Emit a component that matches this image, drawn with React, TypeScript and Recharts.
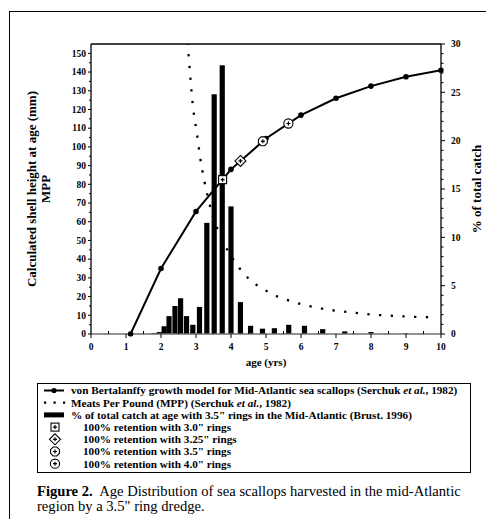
import { ComposedChart, Bar, Line, Scatter, XAxis, YAxis, ReferenceLine, Label } from 'recharts';

const SERIF = '"Liberation Serif", "Times New Roman", serif';

// % of total catch at age (3.5" rings), right axis
const catchAges = [1.8, 1.95, 2.09, 2.23, 2.4, 2.56, 2.73, 2.91, 3.1, 3.31, 3.52, 3.75, 4.0, 4.27, 4.56, 4.9, 5.24, 5.65, 6.1, 6.62, 7.25, 8.0, 9.0];
const catchPct = [0.1, 0.2, 0.8, 1.85, 2.9, 3.7, 1.85, 0.95, 2.8, 11.5, 24.8, 27.8, 13.2, 3.3, 0.85, 0.55, 0.6, 0.95, 0.85, 0.5, 0.27, 0.2, 0.08];

// von Bertalanffy shell height (mm)
const growthAges = [1.13, 2, 3, 4, 5, 6, 7, 8, 9, 10];
const growthMm = [0, 35, 65.5, 88, 104.5, 117, 126, 132.5, 137.5, 141];

// meats per pound
const mppAges = [2.72, 2.79, 2.87, 2.93, 3.03, 3.12, 3.24, 3.31, 3.39, 3.48, 3.6, 3.91, 4.12, 4.38, 4.71, 5.05, 5.38, 5.72, 6.05, 6.39, 6.72, 7.06, 7.39, 7.73, 8.06, 8.4, 8.73, 9.05, 9.38, 9.7];
const mppValues = [162, 148.7, 130, 119, 106.7, 94.2, 81.6, 75.5, 69.3, 62.9, 56.7, 44.4, 38.3, 32, 26.5, 22.6, 19.6, 17.5, 15.7, 14.3, 13.2, 12.3, 11.6, 10.9, 10.3, 10.0, 9.6, 9.3, 9.1, 8.9];

// 100% retention points on the growth curve
const retentionRings = ['3.0"', '3.25"', '3.5"', '4.0"'];
const retentionAges = [3.76, 4.27, 4.91, 5.64];
const retentionMm = [82.5, 92.5, 103, 112.5];
const retentionKinds = ['square', 'diamond', 'octagon', 'circle'];

const xTicks = [0, 0.5, 1, 1.5, 2, 2.5, 3, 3.5, 4, 4.5, 5, 5.5, 6, 6.5, 7, 7.5, 8, 8.5, 9, 9.5, 10];
const leftTicks = [0, 5, 10, 15, 20, 25, 30, 35, 40, 45, 50, 55, 60, 65, 70, 75, 80, 85, 90, 95, 100, 105, 110, 115, 120, 125, 130, 135, 140, 145, 150];
const rightTicks = [0, 1, 2, 3, 4, 5, 6, 7, 8, 9, 10, 11, 12, 13, 14, 15, 16, 17, 18, 19, 20, 21, 22, 23, 24, 25, 26, 27, 28, 29, 30];

const catchData = catchAges.map((age, i) => ({ age, pct: catchPct[i] }));
const growthData = growthAges.map((age, i) => ({ age, mm: growthMm[i] }));
const mppData = mppAges.map((age, i) => ({ age, mpp: mppValues[i] }));
const retentionData = retentionAges.map((age, i) => ({ age, mm: retentionMm[i], kind: retentionKinds[i] }));

const tickFont = { fontFamily: SERIF, fontSize: 9.5, fontWeight: 700, fill: '#000' };

function XTick(props: any) {
  const { x, y, payload } = props;
  const major = Number.isInteger(payload.value);
  return (
    <g>
      <line x1={x} x2={x} y1={y} y2={major ? y + 4 : y - 3} stroke="#000" strokeWidth={1} />
      {major && <text x={x} y={y + 15.5} textAnchor="middle" style={tickFont}>{payload.value}</text>}
    </g>
  );
}

function LeftTick(props: any) {
  const { x, y, payload } = props;
  const major = payload.value % 10 === 0;
  return (
    <g>
      <line x1={x} x2={x - (major ? 3 : 2)} y1={y} y2={y} stroke="#000" strokeWidth={1} />
      {major && <text x={x - 5} y={y + 3.3} textAnchor="end" style={tickFont}>{payload.value}</text>}
    </g>
  );
}

function RightTick(props: any) {
  const { x, y, payload } = props;
  const major = payload.value % 5 === 0;
  return (
    <g>
      <line x1={x} x2={x + (major ? 4 : 2.5)} y1={y} y2={y} stroke="#000" strokeWidth={1} />
      {major && <text x={x + 10} y={y + 3.3} textAnchor="start" style={tickFont}>{payload.value}</text>}
    </g>
  );
}

function CatchBar(props: any) {
  const { x, y, width, height } = props;
  if (!height || height <= 0) return null;
  const cx = x + width / 2;
  return <rect x={cx - 2.6} y={y} width={5.2} height={height} fill="#000" />;
}

function RetentionMark({ cx, cy, kind }: { cx: number; cy: number; kind: string }) {
  let outline;
  if (kind === 'square') {
    outline = <rect x={cx - 4} y={cy - 4} width={8} height={8} fill="#fff" stroke="#000" strokeWidth={1.1} />;
  } else if (kind === 'diamond') {
    outline = <path d={`M${cx},${cy - 5.5}L${cx + 5.5},${cy}L${cx},${cy + 5.5}L${cx - 5.5},${cy}Z`} fill="#fff" stroke="#000" strokeWidth={1.1} />;
  } else if (kind === 'octagon') {
    const pts = Array.from({ length: 8 }, (_, i) => {
      const a = (Math.PI / 8) + (i * Math.PI) / 4;
      return `${cx + 4.8 * Math.cos(a)},${cy + 4.8 * Math.sin(a)}`;
    }).join(' ');
    outline = <polygon points={pts} fill="#fff" stroke="#000" strokeWidth={1.1} />;
  } else {
    outline = <circle cx={cx} cy={cy} r={4.6} fill="#fff" stroke="#000" strokeWidth={1.1} />;
  }
  return (
    <g>
      {outline}
      <path d={`M${cx - 2},${cy}H${cx + 2}M${cx},${cy - 2}V${cy + 2}`} stroke="#000" strokeWidth={1.2} />
    </g>
  );
}

const legendRows = [
  { sym: 'line', text: 'von Bertalanffy growth model for Mid-Atlantic sea scallops (Serchuk ', ital: 'et al.', tail: ', 1982)' },
  { sym: 'dots', text: 'Meats Per Pound (MPP) (Serchuk ', ital: 'et al.', tail: ', 1982)' },
  { sym: 'bar', text: '% of total catch at age with 3.5" rings in the Mid-Atlantic (Brust. 1996)' },
  ...retentionRings.map((r, i) => ({ sym: retentionKinds[i], text: `100% retention with ${r} rings` })),
];

function LegendSymbol({ sym, cy }: { sym: string; cy: number }) {
  if (sym === 'line') {
    return (
      <g>
        <line x1={6} x2={26} y1={cy} y2={cy} stroke="#000" strokeWidth={2} />
        <circle cx={16} cy={cy} r={2.6} fill="#000" />
      </g>
    );
  }
  if (sym === 'dots') {
    return <line x1={6} x2={28} y1={cy} y2={cy} stroke="#000" strokeWidth={2.2} strokeDasharray="2.2 7.3" />;
  }
  if (sym === 'bar') {
    return <rect x={6} y={cy - 2.5} width={20} height={5} fill="#000" />;
  }
  return <RetentionMark cx={17} cy={cy} kind={sym} />;
}

export default function App() {
  return (
    <div style={{ position: 'absolute', left: 0, top: 0, width: 486, height: 519, overflow: 'hidden', background: '#fff', fontFamily: SERIF }}>
      <div style={{ position: 'absolute', left: 9, top: 11, width: 600, height: 600, borderLeft: '1px solid #000', borderTop: '1px solid #000' }} />

      <div style={{ position: 'absolute', left: 0, top: 0 }}>
        <ComposedChart width={486} height={368} data={catchData} margin={{ top: 44, right: 0, bottom: 0, left: 0 }}>
          <XAxis
            dataKey="age"
            type="number"
            domain={[0, 10]}
            ticks={xTicks}
            interval={0}
            allowDataOverflow
            height={34}
            tickSize={0}
            tickMargin={0}
            tickLine={false}
            tick={<XTick />}
            axisLine={{ stroke: '#707070', strokeWidth: 1.5 }}
          >
            <Label value="age (yrs)" position="insideBottom" offset={2} style={{ fontFamily: SERIF, fontSize: 11, fontWeight: 700, fill: '#000' }} />
          </XAxis>
          <YAxis
            yAxisId="left"
            type="number"
            domain={[0, 155]}
            ticks={leftTicks}
            interval={0}
            allowDataOverflow
            width={91}
            tickSize={0}
            tickMargin={0}
            tickLine={false}
            tick={<LeftTick />}
            axisLine={{ stroke: '#000', strokeWidth: 1.3 }}
          />
          <YAxis
            yAxisId="right"
            orientation="right"
            type="number"
            domain={[0, 30]}
            ticks={rightTicks}
            interval={0}
            width={45}
            tickSize={0}
            tickMargin={0}
            tickLine={false}
            tick={<RightTick />}
            axisLine={{ stroke: '#000', strokeWidth: 1.3 }}
          />
          <ReferenceLine yAxisId="left" y={155} stroke="#000" strokeWidth={1.3} />
          <Line
            yAxisId="left"
            data={mppData}
            dataKey="mpp"
            type="monotone"
            stroke="#000"
            strokeWidth={2.3}
            strokeDasharray="2.3 9.4"
            dot={false}
            isAnimationActive={false}
          />
          <Bar yAxisId="right" dataKey="pct" fill="#000" barSize={5} shape={<CatchBar />} isAnimationActive={false} />
          <Line
            yAxisId="left"
            data={growthData}
            dataKey="mm"
            type="linear"
            stroke="#000"
            strokeWidth={2}
            dot={{ r: 2.8, fill: '#000', stroke: '#000', strokeWidth: 0, clipDot: false }}
            isAnimationActive={false}
          />
          <Scatter
            yAxisId="left"
            data={retentionData}
            dataKey="mm"
            isAnimationActive={false}
            shape={(p: any) => <RetentionMark cx={p.cx} cy={p.cy} kind={p.payload.kind} />}
          />
        </ComposedChart>
      </div>

      <svg width={486} height={519} style={{ position: 'absolute', left: 0, top: 0, pointerEvents: 'none' }}>
        <g style={{ fontFamily: SERIF, fontSize: 13, fontWeight: 700, fill: '#000' }}>
          <text x={36} y={189} textAnchor="middle" transform="rotate(-90 36 189)">Calculated shell height at age (mm)</text>
          <text x={50} y={189} textAnchor="middle" transform="rotate(-90 50 189)">MPP</text>
          <text x={481} y={189} textAnchor="middle" transform="rotate(-90 481 189)">% of total catch</text>
        </g>
      </svg>

      <div style={{ position: 'absolute', left: 37, top: 383, width: 434, height: 90, border: '1.3px solid #000', boxSizing: 'border-box' }}>
        <svg width={432} height={88} style={{ display: 'block' }}>
          {legendRows.map((row, i) => {
            const cy = 6.5 + i * 12.2;
            const textX = i < 3 ? 33 : 45;
            return (
              <g key={i}>
                <LegendSymbol sym={row.sym} cy={cy} />
                <text x={textX} y={cy + 3.8} style={{ fontFamily: SERIF, fontSize: 11.2, fontWeight: 700, fill: '#000' }}>
                  {row.text}
                  {row.ital && <tspan fontStyle="italic">{row.ital}</tspan>}
                  {row.tail}
                </text>
              </g>
            );
          })}
        </svg>
      </div>

      <div style={{ position: 'absolute', left: 37, top: 484, width: 449, fontSize: 14.6, lineHeight: '14.5px', color: '#000', whiteSpace: 'nowrap' }}>
        <b>Figure 2.</b>&nbsp; Age Distribution of sea scallops harvested in the mid-Atlantic
        <br />
        region by a 3.5" ring dredge.
      </div>
    </div>
  );
}
